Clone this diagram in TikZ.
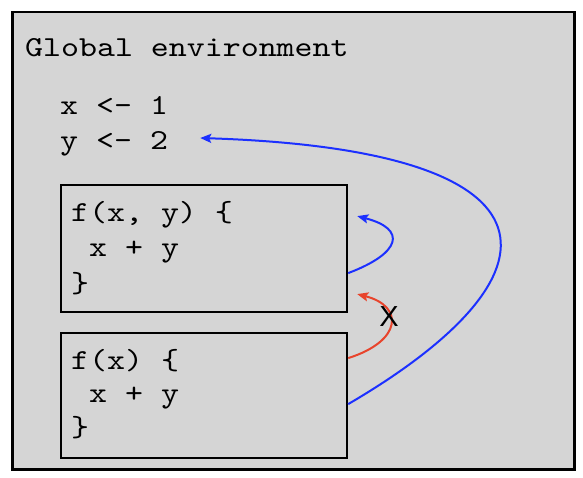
\documentclass[tikz,border=0pt]{standalone}
\usepackage{fontspec}
\newfontfamily\codefont[Extension=.otf, FakeStretch=1.18]{lmmono10-regular}
\newfontfamily\xsans{Liberation Sans}
\usetikzlibrary{arrows.meta,calc}
\definecolor{envgray}{HTML}{D5D5D5}
\definecolor{refblue}{HTML}{1C30FF}
\definecolor{refred}{HTML}{E8442C}
\begin{document}
\begin{tikzpicture}[x=1pt,y=-1pt,
  code/.style={font=\codefont\fontsize{29}{35}\selectfont, inner sep=0pt, anchor=base west},
  fnbox/.style={draw=black, line width=2.2pt, minimum width=286pt, minimum height=127pt, anchor=north west, inner sep=0pt},
  link/.style={line width=2pt, -{Stealth[length=11pt,width=9pt,inset=2pt]}}]
\useasboundingbox (0,0) rectangle (583,478);
\fill[white] (0,0) rectangle (583,478);
\node[draw=black, fill=envgray, line width=2.5pt, minimum width=562pt, minimum height=457pt, anchor=north west, inner sep=0pt] (genv) at (11,11) {};
\node[code] (title) at (25,57) {Global environment};
\node[code] (xvar) at (60,115) {x <- 1};
\node[code] (yvar) at (60,150) {y <- 2};
% first function box
\node[fnbox] (box1) at (60,184) {};
\node[code] (c1a) at (71,222) {f(x, y) \{};
\node[code] (c1b) at (71,257) {\ x + y};
\node[code] (c1c) at (71,292) {\}};
% second function box
\node[fnbox, minimum height=125pt] (box2) at (60,332) {};
\node[code] (c2a) at (71,369) {f(x) \{};
\node[code] (c2b) at (71,402) {\ x + y};
\node[code] (c2c) at (71,436) {\}};
% connectors
\draw[link, refblue] ($(box1.east)+(0,24.5)$) .. controls +(53,-20) and +(50,13) .. ($(box1.east)+(9,-32.5)$);
\draw[link, refred] ($(box2.east)+(0,-37.5)$) .. controls +(54,-17) and +(47,12) .. ($(box1.east)+(9,45.5)$);
\node[font=\xsans\fontsize{29}{29}\selectfont, inner sep=0pt] (xmark) at (389,317) {X};
\draw[link, refblue] ($(box2.east)+(0,8.5)$) .. controls +(219,-128) and +(375,12) .. ($(yvar.base east)+(32,-12)$);
\end{tikzpicture}
\end{document}
